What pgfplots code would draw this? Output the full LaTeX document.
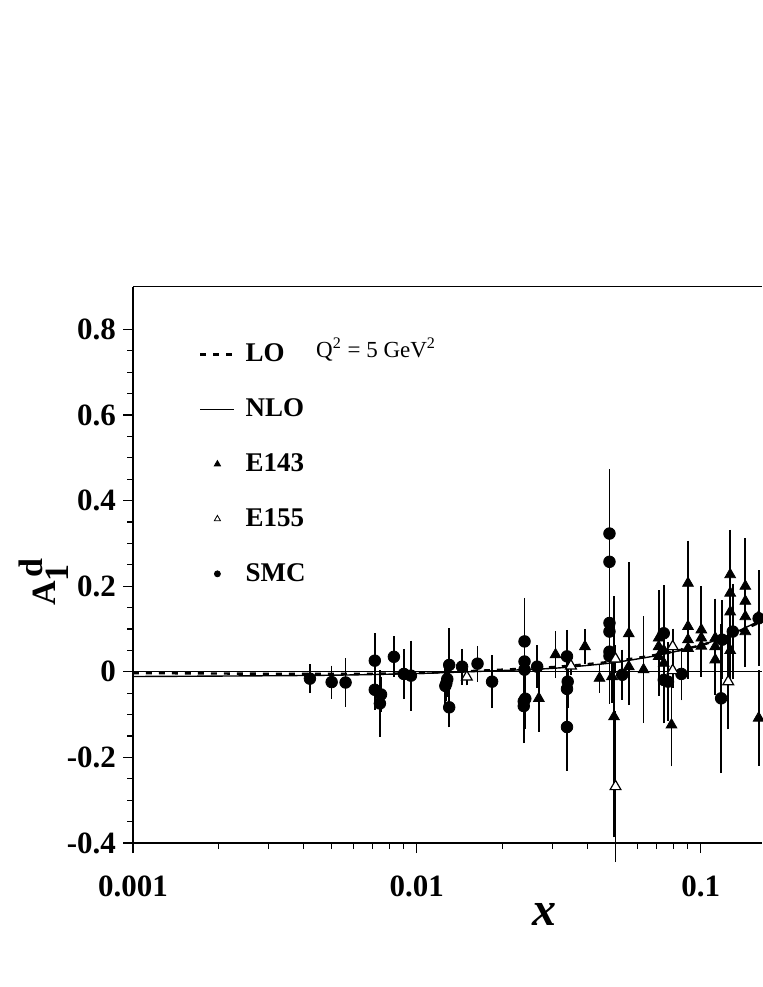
\documentclass[border=0pt]{standalone}
\usepackage{pgfplots}
\pgfplotsset{compat=1.18}
\usepackage{fontspec}
\setmainfont{Liberation Serif}

% SMC: x, A1d, error
\pgfplotstableread{
x y e
0.00420 -0.016 0.022
0.00501 -0.024 0.027
0.00561 -0.025 0.045
0.00711 0.026 0.052
0.00711 -0.042 0.035
0.00748 -0.053 0.030
0.00741 -0.074 0.066
0.00830 0.035 0.036
0.00900 -0.005 0.047
0.00953 -0.009 0.070
0.0130 0.016 0.074
0.0127 -0.027 0.030
0.0126 -0.033 0.040
0.0130 -0.083 0.035
0.0128 -0.017 0.030
0.01443 0.012 0.030
0.01636 0.019 0.030
0.01841 -0.023 0.050
0.02395 0.071 0.090
0.02395 0.024 0.050
0.02395 0.005 0.050
0.0238 -0.069 0.070
0.0238 -0.080 0.075
0.0241 -0.063 0.060
0.02654 0.012 0.038
0.0338 0.036 0.050
0.0340 -0.023 0.050
0.0338 -0.040 0.050
0.0338 -0.129 0.090
0.0477 0.323 0.138
0.0477 0.257 0.200
0.0477 0.114 0.140
0.0477 0.094 0.140
0.0477 0.047 0.100
0.0477 0.037 0.100
0.0529 -0.007 0.047
0.0741 0.090 0.100
0.0741 -0.019 0.090
0.0767 -0.023 0.080
0.0855 -0.005 0.050
0.119 0.075 0.080
0.118 -0.062 0.163
0.1297 0.094 0.100
0.160 0.125 0.100
}\smc

% E143
\pgfplotstableread{
x y e
0.0269 -0.062 0.066
0.0308 0.040 0.043
0.0391 0.059 0.029
0.0440 -0.015 0.022
0.0487 -0.011 0.050
0.0495 -0.105 0.270
0.0558 0.089 0.155
0.0558 0.012 0.050
0.0629 0.005 0.113
0.0711 0.079 0.100
0.0711 0.059 0.090
0.0711 0.036 0.080
0.0741 0.050 0.070
0.0741 0.020 0.080
0.0789 -0.124 0.085
0.0902 0.207 0.088
0.0902 0.106 0.080
0.0902 0.075 0.080
0.0902 0.055 0.060
0.1005 0.098 0.090
0.1005 0.079 0.070
0.1005 0.060 0.060
0.1125 0.079 0.080
0.1125 0.059 0.070
0.1125 0.028 0.070
0.127 0.227 0.093
0.127 0.184 0.090
0.127 0.140 0.080
0.127 0.050 0.070
0.1436 0.200 0.100
0.1436 0.165 0.090
0.1436 0.129 0.080
0.1436 0.094 0.070
0.160 0.129 0.080
0.160 -0.108 0.100
}\eoneforthree

% E155
\pgfplotstableread{
x y e
0.0150 -0.012 0.008
0.0349 0.014 0.010
0.0501 0.030 0.020
0.0501 -0.268 0.165
0.0797 0.059 0.030
0.0797 0.003 0.030
0.125 -0.023 0.100
}\eonefivefive

\begin{document}
\begin{tikzpicture}
\begin{axis}[
  scale only axis,
  width=314.5pt, height=278.2pt,
  xmode=log,
  xmin=0.001, xmax=0.1644,
  ymin=-0.4, ymax=0.9,
  axis x line*=box, axis y line*=left,
  axis line style={line width=0.9pt},
  clip=false,
  xtick={0.001,0.01,0.1},
  xticklabels={0.001,0.01,0.1},
  minor xtick={0.002,0.003,0.004,0.005,0.006,0.007,0.008,0.009,0.02,0.03,0.04,0.05,0.06,0.07,0.08,0.09},
  ytick={-0.4,-0.2,0,0.2,0.4,0.6,0.8},
  yticklabels={-0.4,-0.2,0,0.2,0.4,0.6,0.8},
  minor y tick num=3,
  xtick pos=bottom, ytick pos=left,
  tick align=outside,
  major tick length=5pt, minor tick length=3pt,
  tick style={line width=0.6pt, black},
  xticklabel style={font=\bfseries\fontsize{15.5}{18}\selectfont, yshift=-8pt},
  yticklabel style={font=\bfseries\fontsize{15.5}{18}\selectfont},
  xlabel={\bfseries\itshape x},
  x label style={font=\fontsize{24}{28}\selectfont, at={(axis description cs:0.654,-0.129)}, anchor=center},
  ylabel={\textbf{A}$_{\textbf{1}}^{\,\textbf{d}}$},
  y label style={font=\fontsize{17}{20}\selectfont, at={(axis description cs:-0.142,0.47)}, anchor=center, rotate=0},
  legend style={draw=none, fill=none, at={(rel axis cs:0.095,0.912)}, anchor=north west,
    font=\bfseries\fontsize{13.5}{16}\selectfont, row sep=13pt,
    /tikz/every odd column/.append style={column sep=3pt}},
  legend cell align=left,
  error bars/y dir=both, error bars/y explicit,
  error bars/error bar style={line width=0.85pt, black},
  error bars/error mark options={mark size=2.5pt, line width=0.85pt, black},
]
\coordinate (bl) at (rel axis cs:0,0);
\coordinate (tr) at (rel axis cs:1,1);

\addlegendimage{black, line width=1.2pt, dash pattern=on 3pt off 3.5pt}
\addlegendentry{LO}
\addlegendimage{black, line width=0.7pt}
\addlegendentry{NLO}
\addlegendimage{only marks, mark=triangle*, mark size=1.8pt, black}
\addlegendentry{E143}
\addlegendimage{only marks, mark=triangle, mark size=1.8pt, black, mark options={line width=0.4pt}}
\addlegendentry{E155}
\addlegendimage{only marks, mark=*, mark size=1.5pt, black}
\addlegendentry{SMC}

% zero line
\addplot[forget plot, black, line width=0.7pt] coordinates {(0.001,0) (0.1644,0)};

% LO
\addplot[forget plot, black, line width=1.2pt, dash pattern=on 3pt off 3.5pt, smooth] coordinates {
(0.001,-0.003) (0.002,-0.004) (0.005,-0.005) (0.01,-0.003) (0.02,0.005) (0.03,0.011)
(0.04,0.018) (0.05,0.025) (0.07,0.040) (0.1,0.062) (0.13,0.088) (0.1644,0.118)};
% NLO
\addplot[forget plot, black, line width=0.7pt, smooth] coordinates {
(0.001,-0.011) (0.002,-0.010) (0.005,-0.008) (0.01,-0.004) (0.02,0.003) (0.03,0.008)
(0.04,0.015) (0.05,0.022) (0.07,0.038) (0.1,0.062) (0.13,0.090) (0.1644,0.122)};

\addplot[forget plot, only marks, mark=*, mark size=2.9pt, black] table[x=x, y=y, y error=e] {\smc};
\addplot[forget plot, only marks, mark=triangle*, mark size=3.1pt, black] table[x=x, y=y, y error=e] {\eoneforthree};
\addplot[forget plot, only marks, mark=triangle*, mark size=3.1pt, black, mark options={fill=white, line width=0.6pt}] table[x=x, y=y, y error=e] {\eonefivefive};

\node[anchor=west, font=\fontsize{11.5}{14}\selectfont] at (rel axis cs:0.28,0.887) {Q\textsuperscript{2} = 5 GeV\textsuperscript{2}};
\end{axis}
\pgfresetboundingbox
\path ([xshift=-66.5pt,yshift=-72pt]bl) rectangle ([yshift=143.3pt]tr);
\end{tikzpicture}
\end{document}
